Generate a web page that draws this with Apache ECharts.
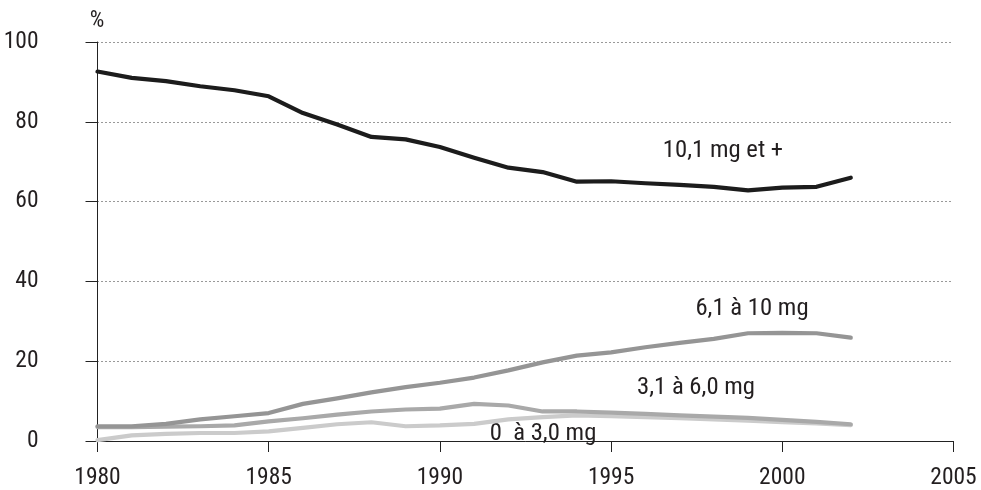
<!DOCTYPE html>
<html>
<head>
<meta charset="utf-8">
<script src="https://cdn.jsdelivr.net/npm/echarts@6/dist/echarts.min.js"></script>
<style>html,body{margin:0;padding:0;background:#fff}#c{width:981px;height:490px}</style>
</head>
<body>
<div id="c"></div>
<script>
const years = [1980,1981,1982,1983,1984,1985,1986,1987,1988,1989,1990,1991,1992,1993,1994,1995,1996,1997,1998,1999,2000,2001,2002];
const s10plus = [92.6,91.0,90.2,88.9,87.9,86.4,82.2,79.3,76.2,75.6,73.7,71.0,68.5,67.4,65.0,65.1,64.6,64.2,63.7,62.8,63.5,63.7,66.0];
const s6to10  = [3.7,3.7,4.3,5.4,6.2,7.0,9.3,10.7,12.2,13.5,14.6,15.9,17.7,19.7,21.4,22.2,23.5,24.6,25.6,27.0,27.1,27.0,25.9];
const s3to6   = [3.5,3.5,3.6,3.7,3.9,4.9,5.7,6.6,7.4,7.9,8.1,9.3,8.9,7.4,7.4,7.1,6.8,6.4,6.1,5.8,5.3,4.8,4.2];
const s0to3   = [0.2,1.4,1.8,2.0,2.0,2.4,3.3,4.2,4.7,3.7,3.9,4.3,5.4,6.0,6.4,6.2,6.0,5.7,5.4,5.1,4.7,4.4,4.0];
const seriesNames = ['10,1 mg et +','6,1 à 10 mg','3,1 à 6,0 mg','0  à 3,0 mg'];
const xTicks = {min:1980, max:2005, step:5};
const yTicks = {min:0, max:100, step:20};

const FONT = '"Roboto Condensed","Liberation Sans Narrow","DejaVu Sans Condensed",sans-serif';
const TXT = '#231f20';
const FS = 23.5;
function pairs(v){ return years.map((y,i)=>[y,v[i]]); }
function line(name, data, color, z){
  return {name, type:'line', data:pairs(data), showSymbol:false, symbol:'none', z,
    lineStyle:{color, width:4.2, cap:'round', join:'round'}, animation:false};
}
function label(text, x, y){
  return {type:'text', x, y, scaleX:1.05, style:{text, fill:TXT, font:FS+'px '+FONT, textAlign:'center', textVerticalAlign:'middle'}};
}
const chart = echarts.init(document.getElementById('c'), null, {renderer:'canvas'});
chart.setOption({
  backgroundColor:'#fff',
  animation:false,
  grid:{left:97.5, right:27.5, top:42, bottom:48, containLabel:false},
  xAxis:{type:'value', min:xTicks.min, max:xTicks.max, interval:xTicks.step,
    axisLine:{show:true, lineStyle:{color:'#222', width:1}},
    axisTick:{show:true, length:11, inside:false, lineStyle:{color:'#222', width:1}},
    axisLabel:{color:TXT, fontFamily:FONT, fontSize:FS, margin:25, formatter:v=>String(v)},
    splitLine:{show:false}},
  yAxis:{type:'value', min:yTicks.min, max:yTicks.max, interval:yTicks.step,
    axisLine:{show:true, lineStyle:{color:'#222', width:1}},
    axisTick:{show:true, length:12, inside:false, lineStyle:{color:'#222', width:1}},
    axisLabel:{color:TXT, fontFamily:FONT, fontSize:FS, margin:59},
    splitLine:{show:true, lineStyle:{color:'#333', width:1, type:[1,3]}}},
  series:[
    line(seriesNames[3], s0to3, '#cbcbcb', 2),
    line(seriesNames[2], s3to6, '#a9a9a9', 3),
    line(seriesNames[1], s6to10, '#959595', 4),
    line(seriesNames[0], s10plus, '#1c1c1c', 5)
  ],
  graphic:[
    {type:'text', x:97, y:21, style:{text:'%', fill:TXT, font:'23px '+FONT, textAlign:'center', textVerticalAlign:'middle'}},
    label(seriesNames[0], 723, 151),
    label(seriesNames[1], 752, 309),
    label(seriesNames[2], 696, 388),
    label(seriesNames[3], 543, 434)
  ]
});
</script>
</body>
</html>
